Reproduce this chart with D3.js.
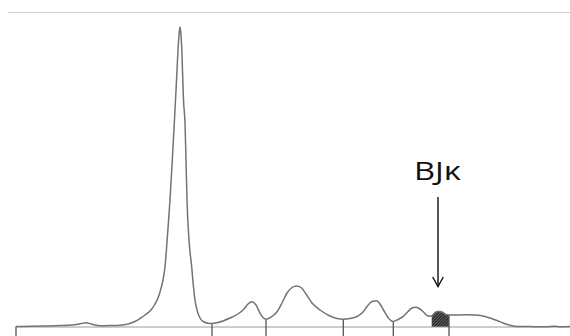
<!DOCTYPE html>
<html>
<head>
<meta charset="utf-8">
<script src="https://cdn.jsdelivr.net/npm/d3@7"></script>
<style>
  html, body { margin: 0; padding: 0; background: #fff; }
  svg { display: block; }
</style>
</head>
<body>
<svg id="chart" width="570" height="336"></svg>
<script>
// Densitometric scan of an electrophoresis strip.
// Migration distance (arbitrary units) and absorbance (arbitrary units).
const mobility = [
  0, 14, 29, 44, 56, 64, 70, 76, 84, 94, 104, 112, 119, 124, 129, 135, 139, 142, 144, 147,
  149, 151.5, 154, 156.3, 158.3, 159.5, 160.7, 162, 163.2, 164, 164.8, 166, 166.7, 167.5, 169, 170,
  171, 173, 175.7, 177.5, 179, 181, 184, 188, 194, 202, 214, 222, 228, 232, 236, 240, 244, 247,
  250.5, 256, 261, 266, 271, 276, 280.5, 285, 290, 296, 304, 314, 321, 327.3, 334, 341, 347, 351,
  356, 360.7, 364, 367.5, 372, 377.3, 382, 387, 392, 396, 400, 404, 408, 412, 415.7, 418, 421, 424,
  427, 430, 433, 439, 449, 459, 467, 474, 481, 487, 494, 501, 514, 529, 539, 544, 554
];
const density = [
  0.5, 0.7, 1, 1.4, 2, 3.2, 4.2, 2.8, 1.2, 1.4, 1.8, 3, 5.5, 8.5, 12, 17, 23, 29, 35, 47,
  60, 92, 127, 167, 204, 227, 250, 277, 294, 300, 294, 272, 250, 227, 204, 167,
  127, 87, 60, 40, 27, 17, 9, 5, 3.5, 4.5, 9, 13, 18, 23, 25.3, 22, 14, 9.5,
  7.7, 10.5, 15.3, 24, 34, 39.5, 41, 39.5, 33, 24, 17, 11, 8.5, 7.7, 8.5, 10.5, 15, 20.5,
  25.5, 26.3, 23, 17, 9.5, 5.5, 7.5, 10.3, 15.5, 19, 19.7, 18, 14.5, 11, 11, 13.5, 15.5, 15.5,
  14.5, 12.5, 12, 12, 12.2, 12, 11, 9, 6.5, 4, 1.8, 0.5, 0.4, 0.3, 0.7, 0.2, 0.4
];

// Fraction boundaries along the migration axis
const fractionCuts = [0, 196, 250, 327.3, 377.3, 433];

// Monoclonal light-chain band and its annotation
const bandRange = [415.7, 433];
const bandLabel = "BJκ";
const bandArrowAt = 422;

const W = 570, H = 336;
const svg = d3.select("#chart");

const x = d3.scaleLinear().domain([0, 554]).range([16, 570]);
const y = d3.scaleLinear().domain([0, 300]).range([327, 27]);

const pts = mobility.map((m, i) => ({ m, v: density[i] }));

// linear lookup of the trace at a given migration distance
const bis = d3.bisector(d => d.m).left;
function valueAt(m) {
  const i = bis(pts, m);
  if (i <= 0) return pts[0].v;
  if (i >= pts.length) return pts[pts.length - 1].v;
  const a = pts[i - 1], b = pts[i];
  const t = (m - a.m) / (b.m - a.m);
  return a.v + t * (b.v - a.v);
}

// hatch pattern for the band
const defs = svg.append("defs");
const pat = defs.append("pattern")
  .attr("id", "hatch")
  .attr("patternUnits", "userSpaceOnUse")
  .attr("width", 3).attr("height", 3);
pat.append("rect").attr("width", 3).attr("height", 3).attr("fill", "#333");
pat.append("path")
  .attr("d", "M-1,1 l2,-2 M0,3 l3,-3 M2,4 l2,-2")
  .attr("stroke", "#6a6a6a").attr("stroke-width", 0.8);

// top rule
svg.append("line")
  .attr("x1", 8).attr("x2", W).attr("y1", 12.5).attr("y2", 12.5)
  .attr("stroke", "#cfcfcf").attr("stroke-width", 1.2);

// shaded band under the trace
const bandPts = [{ m: bandRange[0], v: valueAt(bandRange[0]) }]
  .concat(pts.filter(p => p.m > bandRange[0] && p.m < bandRange[1]))
  .concat([{ m: bandRange[1], v: valueAt(bandRange[1]) }]);
svg.append("path")
  .datum(bandPts)
  .attr("fill", "url(#hatch)")
  .attr("d", d3.area().x(d => x(d.m)).y0(y(0)).y1(d => y(d.v)).curve(d3.curveMonotoneX));

// baseline
svg.append("line")
  .attr("x1", x(0)).attr("x2", x(554)).attr("y1", y(0)).attr("y2", y(0))
  .attr("stroke", "#9a9a9a").attr("stroke-width", 1);

// fraction dividers, from the trace down past the baseline
svg.selectAll("line.cut")
  .data(fractionCuts)
  .join("line")
  .attr("class", "cut")
  .attr("x1", d => x(d)).attr("x2", d => x(d))
  .attr("y1", d => y(valueAt(d))).attr("y2", H)
  .attr("stroke", "#555").attr("stroke-width", 1.3);

// trace
svg.append("path")
  .datum(pts)
  .attr("fill", "none")
  .attr("stroke", "#737373")
  .attr("stroke-width", 1.5)
  .attr("stroke-linejoin", "round")
  .attr("d", d3.line().x(d => x(d.m)).y(d => y(d.v)).curve(d3.curveMonotoneX));

// annotation arrow
const ax = x(bandArrowAt);
svg.append("line")
  .attr("x1", ax).attr("x2", ax).attr("y1", 197).attr("y2", 286.5)
  .attr("stroke", "#111").attr("stroke-width", 1.4);
svg.append("path")
  .attr("d", `M${ax - 5.3},277 L${ax},286.5 L${ax + 5.3},277`)
  .attr("fill", "none").attr("stroke", "#111").attr("stroke-width", 1.4);

svg.append("text")
  .attr("x", ax - 24).attr("y", 179.5)
  .attr("textLength", 47)
  .attr("lengthAdjust", "spacingAndGlyphs")
  .attr("font-family", "'Open Sans', sans-serif")
  .attr("font-size", 25)
  .attr("fill", "#111")
  .text(bandLabel);
</script>
</body>
</html>
